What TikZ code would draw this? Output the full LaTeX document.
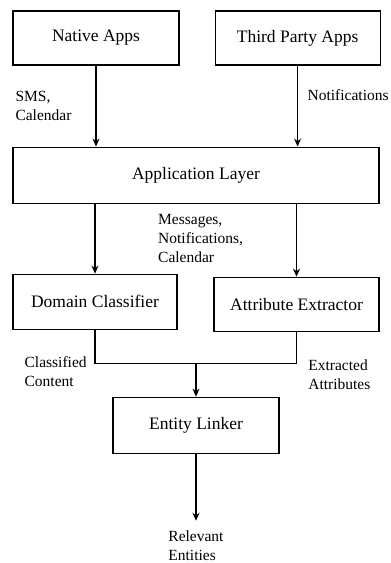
\documentclass[tikz,border=0pt]{standalone}
\usepackage{fontspec}
\setmainfont{Liberation Serif}
\usepackage{tikz}
\usetikzlibrary{arrows.meta}
\usetikzlibrary{positioning}
\tikzstyle{arrow} = [line width=1.1pt,-{Stealth[length=8pt,width=7pt]}]
\tikzstyle{link} = [line width=1.1pt]
\tikzstyle{block} = [
    rectangle, minimum width=166pt, minimum height=54pt, text centered,
    draw=black, line width=1.1pt, font=\fontsize{17.5}{21}\selectfont]
\tikzstyle{lbl} = [inner sep=0pt, align=left, font=\fontsize{15.5}{19}\selectfont]

\begin{document}
\begin{tikzpicture}
\useasboundingbox (0,0) rectangle (391pt,-563pt);

\node (native) [block] at (96pt,-38pt) {Native Apps};

\node (third) [block, minimum width=165pt, right=35pt of native] {Third Party Apps};

\node (app) [block, minimum width=366pt, minimum height=56pt,
    below right=81pt and 0pt of native.south west] {Application Layer};

\node (domain) [block, minimum width=164pt, minimum height=55pt,
    below right=70pt and 0pt of app.south west] {Domain Classifier};

\node (attrib) [block, minimum width=165pt,
    below left=73pt and 0pt of app.south east] {Attribute Extractor};

\node (join) [coordinate, below=160pt of app.south] {};

\node (linker) [block, minimum height=56pt, below=33pt of join] {Entity Linker};

\node (out) [coordinate, below=67pt of linker.south] {};

\node (msgs) [lbl, below right=10pt and -38pt of app.south] {
    Messages, \\
    Notifications, \\
    Calendar
};

\node (classified) [lbl, below right=27pt and 12pt of domain.south west] {
    Classified \\
    Content
};

\node (extracted) [lbl, below left=28pt and 9pt of attrib.south east] {
    Extracted \\
    Attributes
};

\node (relevant) [lbl, below=10pt of out] {
    Relevant \\
    Entities
};

\draw [arrow] (native) -- (native |- app.north)
    node [lbl, midway, left=24pt] {SMS, \\ Calendar};
\draw [arrow] (third) -- (third |- app.north)
    node [lbl, pos=0.37, right=9.5pt] {Notifications};
\draw [arrow] (domain.north |- app.south) -- (domain);
\draw [arrow] (attrib.north |- app.south) -- (attrib);
\draw [link] (domain.south) |- (join) -| (attrib.south);
\draw [arrow, line width=2.2pt] (join) -- (linker);
\draw [arrow] (linker) -- (out);
\end{tikzpicture}
\end{document}
